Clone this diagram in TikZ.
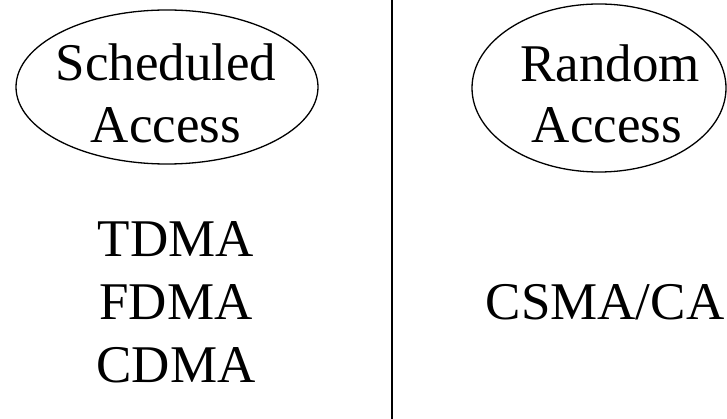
\documentclass[tikz,border=0pt]{standalone}
\usepackage{fontspec}
\setmainfont{Liberation Serif}
\usetikzlibrary{shapes.geometric}
\begin{document}
\begin{tikzpicture}[x=1pt,y=-1pt,
  ell/.style={draw, ellipse, line width=1.3pt, inner sep=0pt},
  lbl/.style={anchor=base, inner sep=0pt, font=\fontsize{53}{62}\selectfont}]
\useasboundingbox (0,0) rectangle (727,419);
\node[ell, minimum width=302pt, minimum height=154pt] (sa) at (167,87) {};
\node[ell, minimum width=254pt, minimum height=168pt] (ra) at (599,88) {};
\coordinate (ltop) at (392,0);
\coordinate (lbot) at (392,419);
\draw[line width=2pt] (ltop) -- (lbot);
\node[lbl] (s1) at (166,81) {Scheduled};
\node[lbl] (s2) at (166,143) {Access};
\node[lbl] (r1) at (610,82) {Random};
\node[lbl] (r2) at (607,143) {Access};
\node[lbl] (t1) at (176,257) {TDMA};
\node[lbl] (t2) at (176,319) {FDMA};
\node[lbl] (t3) at (176,382) {CDMA};
\node[lbl] (c1) at (605,319) {CSMA/CA};
\end{tikzpicture}
\end{document}
